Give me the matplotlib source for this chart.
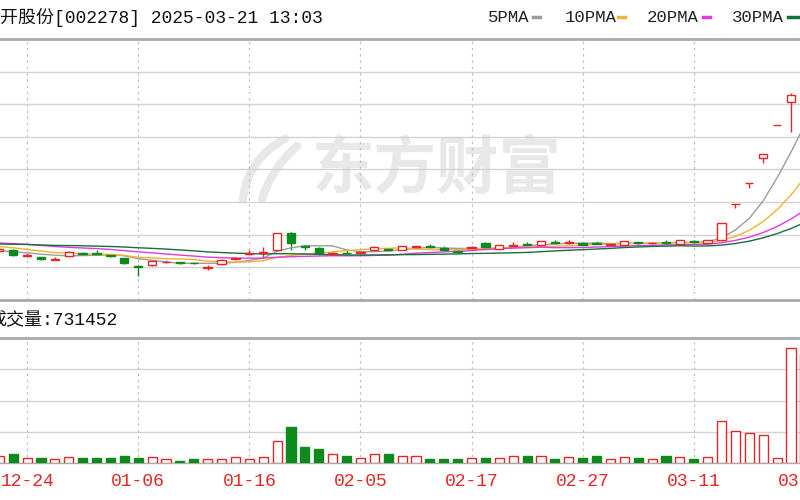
import numpy as np
import pandas as pd
import matplotlib
matplotlib.use("Agg")
import matplotlib.pyplot as plt
from matplotlib.lines import Line2D
from matplotlib.path import Path
from matplotlib.patches import PathPatch
import matplotlib.transforms as mtransforms

# trading days, 12-20 is half cut at the left edge, 03-21 just past the right edge
dates = ["12-20", "12-23", "12-24", "12-25", "12-26", "12-27", "12-30", "12-31", "01-02", "01-03",
         "01-06", "01-07", "01-08", "01-09", "01-10", "01-13", "01-14", "01-15", "01-16", "01-17",
         "01-20", "01-21", "01-22", "01-23", "01-24", "01-27", "02-05", "02-06", "02-07", "02-10",
         "02-11", "02-12", "02-13", "02-14", "02-17", "02-18", "02-19", "02-20", "02-21", "02-24",
         "02-25", "02-26", "02-27", "02-28", "03-03", "03-04", "03-05", "03-06", "03-07", "03-10",
         "03-11", "03-12", "03-13", "03-14", "03-17", "03-18", "03-19", "03-20", "03-21"]
label_days = ["12-24", "01-06", "01-16", "02-05", "02-17", "02-27", "03-11", "03-21"]

opens = [4.76, 4.79, 4.63, 4.58, 4.50, 4.61, 4.72, 4.71, 4.66, 4.55,
         4.33, 4.36, 4.43, 4.43, 4.42, 4.26, 4.38, 4.53, 4.68, 4.70,
         4.79, 5.29, 4.90, 4.85, 4.69, 4.72, 4.70, 4.78, 4.83, 4.80,
         4.87, 4.90, 4.84, 4.76, 4.86, 4.99, 4.83, 4.92, 4.96, 4.94,
         5.03, 5.00, 5.00, 5.00, 4.95, 4.95, 5.02, 4.99, 5.02, 4.98,
         5.06, 4.99, 5.09, 6.15, 6.77, 7.50, 8.47, 9.15, 9.60]
highs = [4.86, 4.82, 4.72, 4.60, 4.60, 4.75, 4.73, 4.78, 4.68, 4.56,
         4.35, 4.49, 4.50, 4.44, 4.44, 4.35, 4.52, 4.58, 4.78, 4.88,
         5.30, 5.33, 4.93, 4.88, 4.75, 4.80, 4.76, 4.90, 4.86, 4.92,
         4.91, 4.97, 4.90, 4.78, 4.90, 5.02, 4.95, 5.02, 5.02, 5.07,
         5.08, 5.08, 5.02, 5.06, 4.99, 5.07, 5.03, 5.03, 5.08, 5.10,
         5.08, 5.10, 5.59, 6.15, 6.77, 7.62, 8.47, 9.41, 10.29]
lows = [4.73, 4.62, 4.58, 4.51, 4.49, 4.60, 4.64, 4.67, 4.60, 4.38,
        4.02, 4.33, 4.41, 4.39, 4.38, 4.20, 4.36, 4.51, 4.67, 4.56,
        4.77, 4.80, 4.80, 4.66, 4.66, 4.68, 4.67, 4.76, 4.77, 4.78,
        4.82, 4.86, 4.78, 4.72, 4.84, 4.86, 4.82, 4.88, 4.92, 4.92,
        4.98, 4.98, 4.93, 4.96, 4.93, 4.93, 4.98, 4.97, 4.97, 4.96,
        5.00, 4.98, 5.06, 6.03, 6.62, 7.35, 8.47, 8.26, 9.40]
closes = [4.82, 4.65, 4.65, 4.54, 4.54, 4.73, 4.69, 4.69, 4.62, 4.40,
          4.28, 4.47, 4.45, 4.41, 4.40, 4.28, 4.50, 4.56, 4.71, 4.73,
          5.29, 5.00, 4.87, 4.70, 4.72, 4.70, 4.73, 4.88, 4.80, 4.90,
          4.90, 4.87, 4.80, 4.74, 4.89, 4.88, 4.93, 4.95, 4.94, 5.05,
          5.00, 5.02, 4.95, 4.98, 4.97, 5.05, 5.00, 5.01, 4.99, 5.08,
          5.02, 5.08, 5.59, 6.15, 6.77, 7.62, 8.47, 9.35, 10.20]
volumes = [47000, 60500, 33600, 33600, 26900, 40300, 33600, 33600, 33600, 47000,
           33600, 40300, 26900, 13400, 26900, 26900, 26900, 40300, 26900, 40300,
           148000, 242000, 107500, 94000, 60500, 47000, 33600, 60500, 60500, 47000,
           47000, 26900, 26900, 26900, 33600, 33600, 33600, 47000, 47000, 47000,
           26900, 40300, 33600, 47000, 26900, 40300, 33600, 26900, 47000, 40300,
           26900, 40300, 282000, 215000, 201600, 188000, 33600, 772800, 731452]

# closes before the visible window, only used to seed the moving averages
prior_closes = [4.85, 4.88, 4.95, 4.92, 4.87, 4.90, 4.98, 4.93, 4.89, 4.93,
                5.00, 5.08, 5.15, 5.22, 5.18, 5.10, 5.05, 5.12, 5.09, 5.02,
                5.06, 5.11, 5.04, 4.98, 4.91, 4.84, 4.80, 4.73, 4.70]

ma_names = ["5PMA", "10PMA", "20PMA", "30PMA"]
ma_windows = [5, 10, 20, 30]
ma_colors = ["#9c9c9c", "#f2b233", "#e03ae0", "#16703a"]

RED = "#e32626"
GREEN = "#0d8a1c"
GRID = "#d2d2d2"
FRAME = "#aaaaaa"

n = len(dates)
idx = np.arange(n)
o = np.array(opens)
h = np.array(highs)
l = np.array(lows)
c = np.array(closes)
v = np.array(volumes)
up = c >= o

fig = plt.figure(figsize=(8, 5), dpi=100)
ax = fig.add_axes([0, 0.4, 1, 0.522])
axv = fig.add_axes([0, 0.074, 1, 0.25])

xlim = (0.05, 57.65)
plo, phi = 3.3235, 11.0
vmax = 840000

for a in (ax, axv):
    a.set_xlim(*xlim)
    a.set_xticks([])
    a.set_yticks([])
    for s in ("left", "right"):
        a.spines[s].set_visible(False)
    for s in ("top", "bottom"):
        a.spines[s].set_color(FRAME)
        a.spines[s].set_linewidth(2.0)
    for d in label_days:
        a.axvline(dates.index(d), color="#c0c0c0", lw=0.9, ls=(0, (2, 3)), zorder=1)
axv.spines["bottom"].set_linewidth(1.0)

ax.set_ylim(plo, phi)
for yv in np.linspace(plo, phi, 9)[1:-1]:
    ax.axhline(yv, color=GRID, lw=1.0, zorder=1)
axv.set_ylim(0, vmax)
for yv in np.linspace(0, vmax, 5)[1:-1]:
    axv.axhline(yv, color=GRID, lw=1.0, zorder=1)

# watermark
ax.text(0.545, 0.662, "东方财富", transform=fig.transFigure, ha="center", va="center",
        fontsize=45, fontweight="bold", color="#e8e8e8", family="Noto Sans CJK SC", zorder=0.5)
px = mtransforms.Affine2D().scale(1 / 800, -1 / 500).translate(0, 1) + fig.transFigure
for verts in ([(243, 199), (248, 158), (285, 139)], [(262, 199), (272, 168), (297, 146)]):
    leaf = PathPatch(Path(verts, [Path.MOVETO, Path.CURVE3, Path.CURVE3]), transform=px,
                     fill=False, lw=6, edgecolor="#e8e8e8", capstyle="round", zorder=0.5)
    ax.add_patch(leaf)

# candles
cols = np.where(up, RED, GREEN)
ax.vlines(idx, l, h, colors=cols, lw=1.0, zorder=2)
body_lo = np.minimum(o, c)
body_h = np.maximum(np.abs(c - o), 0.004)
ax.bar(idx, body_h, bottom=body_lo, width=0.6, facecolor=np.where(up, "white", GREEN),
       edgecolor=cols, lw=1.0, zorder=3)

# moving averages
allc = pd.Series(prior_closes + closes)
for name, w, col in zip(ma_names, ma_windows, ma_colors):
    ma = allc.rolling(w).mean().iloc[len(prior_closes):].to_numpy()
    ax.plot(idx, ma, color=col, lw=1.0, zorder=2.5)

# volume
axv.bar(idx, v, width=0.66, facecolor=np.where(up, "white", GREEN), edgecolor=cols,
        lw=1.0, zorder=3)

for d in label_days:
    axv.text(dates.index(d), -0.144, d, transform=axv.get_xaxis_transform(), ha="center",
             va="center", fontsize=13, color=RED, family="Liberation Mono", clip_on=False)

# header and legend
fig.text(0.0, 1 - 17 / 500, "开股份[002278] 2025-03-21 13:03", ha="left", va="center",
         fontsize=13, color="#111111", family=["Liberation Mono", "Noto Sans CJK SC"])
leg_x = [488, 565, 647, 732]
dash_x = [(533, 540), (618, 625), (703, 710), (788, 800)]
for name, col, tx, (d0, d1) in zip(ma_names, ma_colors, leg_x, dash_x):
    fig.text(tx / 800, 1 - 17 / 500, name, ha="left", va="center", fontsize=12.5,
             color="#222222", family="Liberation Mono")
    fig.add_artist(Line2D([d0 / 800, d1 / 800], [1 - 17 / 500] * 2, color=col, lw=2.5,
                          transform=fig.transFigure))

fig.text(-12 / 800, 1 - 320 / 500, "成交量:" + str(volumes[-1]), ha="left", va="center",
         fontsize=13, color="#111111", family=["Liberation Mono", "Noto Sans CJK SC"])

fig.savefig("out.png", dpi=100)
